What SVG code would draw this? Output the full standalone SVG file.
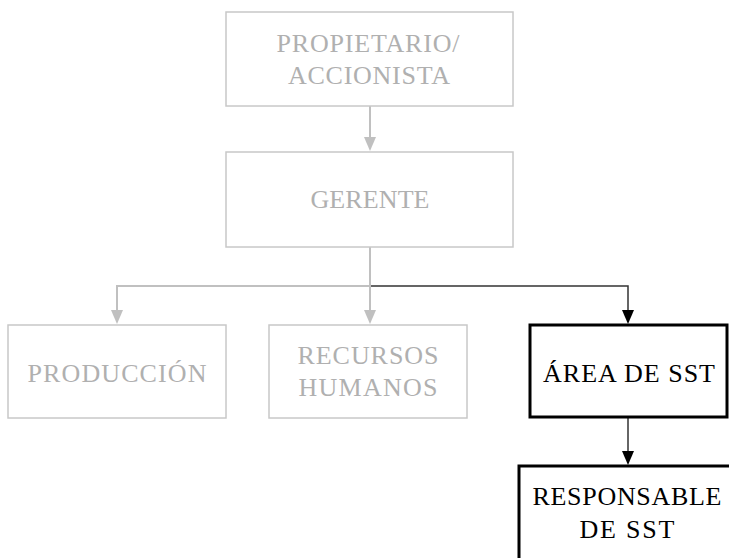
<svg xmlns="http://www.w3.org/2000/svg" width="729" height="558" viewBox="0 0 729 558">
<defs>
<style>
.g{fill:#fff;stroke:#c8c8c8;stroke-width:1.5}
.b{fill:#fff;stroke:#000;stroke-width:3}
.tg{font-family:"Liberation Serif","Times New Roman",serif;font-size:26px;fill:#b0b0b0;text-anchor:middle}
.tb{font-family:"Liberation Serif","Times New Roman",serif;font-size:26px;fill:#000;text-anchor:middle}
.lg{fill:none;stroke:#c0c0c0;stroke-width:2}
.lb{fill:none;stroke:#333;stroke-width:1.5}
.hg{fill:#c0c0c0}
.hb{fill:#000}
</style>
</defs>
<rect width="729" height="558" fill="#fff"/>
<g id="connectors">
<path class="lg" d="M370,106 V140"/>
<path class="hg" d="M364,137 L376,137 L370,151 Z"/>
<path class="lg" d="M370,247 V286"/>
<path class="lg" d="M370,286 H117 V312"/>
<path class="hg" d="M111,310 L123,310 L117,324 Z"/>
<path class="lg" d="M370,286 V312"/>
<path class="hg" d="M364,310 L376,310 L370,324 Z"/>
<path class="lb" d="M371,286 H628 V312"/>
<path class="hb" d="M622,310 L634,310 L628,324 Z"/>
<path class="lb" d="M628,418 V453"/>
<path class="hb" d="M622,451 L634,451 L628,465 Z"/>
</g>
<g id="propietario">
<rect class="g" x="226" y="12" width="287" height="94"/>
<text class="tg" x="368" y="52" textLength="183" lengthAdjust="spacing">PROPIETARIO/</text>
<text class="tg" x="369" y="84" textLength="162" lengthAdjust="spacing">ACCIONISTA</text>
</g>
<g id="gerente">
<rect class="g" x="226" y="152" width="287" height="95"/>
<text class="tg" x="370" y="208" textLength="119" lengthAdjust="spacing">GERENTE</text>
</g>
<g id="produccion">
<rect class="g" x="8" y="325" width="218" height="93"/>
<text class="tg" x="117" y="382" textLength="179" lengthAdjust="spacing">PRODUCCIÓN</text>
</g>
<g id="rrhh">
<rect class="g" x="269" y="325" width="198" height="93"/>
<text class="tg" x="368" y="364" textLength="141" lengthAdjust="spacing">RECURSOS</text>
<text class="tg" x="368" y="396" textLength="139" lengthAdjust="spacing">HUMANOS</text>
</g>
<g id="area-sst">
<rect class="b" x="530" y="325" width="197" height="92"/>
<text class="tb" x="629" y="382" textLength="172" lengthAdjust="spacing">ÁREA DE SST</text>
</g>
<g id="responsable-sst">
<rect class="b" x="519" y="466" width="240" height="110"/>
<text class="tb" x="627" y="505" textLength="189" lengthAdjust="spacing">RESPONSABLE</text>
<text class="tb" x="627" y="538" textLength="95" lengthAdjust="spacing">DE SST</text>
</g>
</svg>
